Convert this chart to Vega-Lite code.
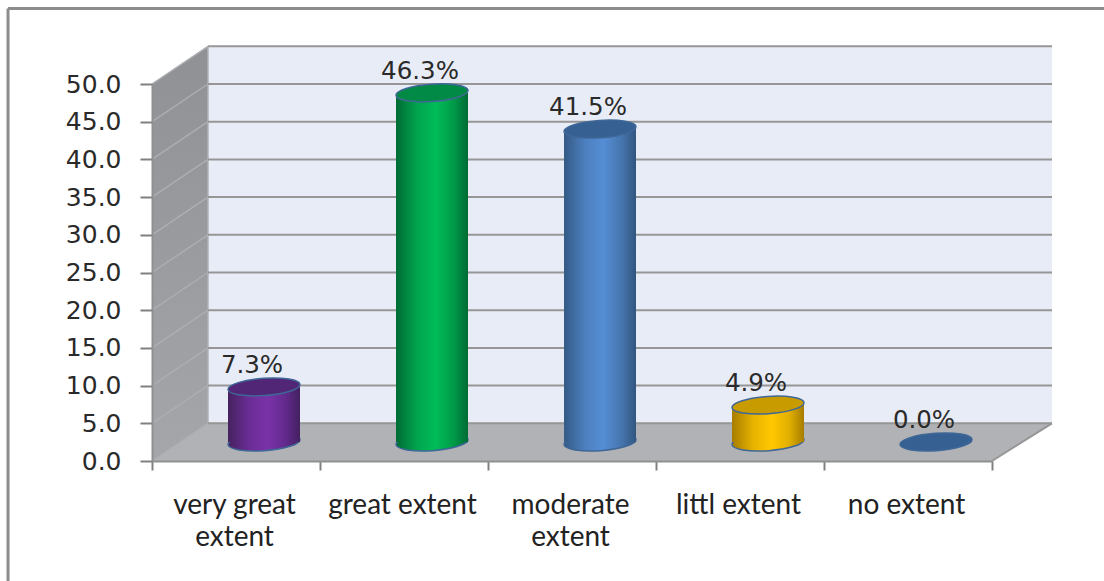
{
  "$schema": "https://vega.github.io/schema/vega-lite/v6.json",
  "width": 840,
  "height": 377,
  "autosize": {"type": "none"},
  "padding": {"left": 152, "top": 84, "right": 112, "bottom": 120},
  "background": "white",
  "config": {"view": {"stroke": null}},
  "datasets": {
    "bars": [
      {"category": "very great extent", "share": 7.3, "text": "7.3%"},
      {"category": "great extent", "share": 46.3, "text": "46.3%"},
      {"category": "moderate extent", "share": 41.5, "text": "41.5%"},
      {"category": "littl extent", "share": 4.9, "text": "4.9%"},
      {"category": "no extent", "share": 0.0, "text": "0.0%"}
    ],
    "sideWall": [
      {"u": 0, "low": 0, "high": 50},
      {"u": 0.333, "low": 5, "high": 55}
    ],
    "backWall": [
      {"u": 0.333, "low": 5, "high": 55},
      {"u": 5.357, "low": 5, "high": 55}
    ],
    "floor": [
      {"u": 0, "low": 0, "high": 0},
      {"u": 0.333, "low": 0, "high": 5},
      {"u": 5, "low": 0, "high": 5},
      {"u": 5.357, "low": 5, "high": 5}
    ],
    "sideGrid": [
      {"u0": 0, "u1": 0.333, "v0": 0, "v1": 5},
      {"u0": 0, "u1": 0.333, "v0": 5, "v1": 10},
      {"u0": 0, "u1": 0.333, "v0": 10, "v1": 15},
      {"u0": 0, "u1": 0.333, "v0": 15, "v1": 20},
      {"u0": 0, "u1": 0.333, "v0": 20, "v1": 25},
      {"u0": 0, "u1": 0.333, "v0": 25, "v1": 30},
      {"u0": 0, "u1": 0.333, "v0": 30, "v1": 35},
      {"u0": 0, "u1": 0.333, "v0": 35, "v1": 40},
      {"u0": 0, "u1": 0.333, "v0": 40, "v1": 45},
      {"u0": 0, "u1": 0.333, "v0": 45, "v1": 50},
      {"u0": 0, "u1": 0.333, "v0": 50, "v1": 55},
      {"u0": 0.333, "u1": 0.333, "v0": 5, "v1": 55}
    ],
    "backGrid": [
      {"u0": 0.333, "u1": 5.357, "v0": 5, "v1": 5},
      {"u0": 0.333, "u1": 5.357, "v0": 10, "v1": 10},
      {"u0": 0.333, "u1": 5.357, "v0": 15, "v1": 15},
      {"u0": 0.333, "u1": 5.357, "v0": 20, "v1": 20},
      {"u0": 0.333, "u1": 5.357, "v0": 25, "v1": 25},
      {"u0": 0.333, "u1": 5.357, "v0": 30, "v1": 30},
      {"u0": 0.333, "u1": 5.357, "v0": 35, "v1": 35},
      {"u0": 0.333, "u1": 5.357, "v0": 40, "v1": 40},
      {"u0": 0.333, "u1": 5.357, "v0": 45, "v1": 45},
      {"u0": 0.333, "u1": 5.357, "v0": 50, "v1": 50},
      {"u0": 0.333, "u1": 5.357, "v0": 55, "v1": 55},
      {"u0": 5, "u1": 5.357, "v0": 0, "v1": 5}
    ],
    "frame": [
      {"u0": -0.857, "u1": 5.667, "v0": 60, "v1": 60},
      {"u0": -0.857, "u1": -0.857, "v0": 60, "v1": -16}
    ]
  },
  "resolve": {"scale": {"x": "independent"}},
  "encoding": {
    "y": {
      "type": "quantitative",
      "title": null,
      "scale": {"domain": [0, 50], "nice": false},
      "axis": {
        "values": [0, 5, 10, 15, 20, 25, 30, 35, 40, 45, 50],
        "format": ".1f",
        "title": null,
        "grid": false,
        "domainColor": "#909090",
        "domainWidth": 2,
        "tickColor": "#808080",
        "tickWidth": 2,
        "tickSize": 12,
        "labelFont": "DejaVu Sans",
        "labelFontSize": 25,
        "labelColor": "#2a2a2a",
        "labelPadding": 19,
        "zindex": 1
      }
    }
  },
  "layer": [
    {
      "encoding": {
        "x": {"type": "quantitative", "scale": {"domain": [0, 5], "nice": false, "zero": false}, "axis": null}
      },
      "layer": [
        {
          "data": {"name": "frame"},
          "mark": {"type": "rule", "color": "#8c8c8c", "strokeWidth": 3},
          "encoding": {"x": {"field": "u0"}, "x2": {"field": "u1"}, "y": {"field": "v0"}, "y2": {"field": "v1"}}
        },
        {
          "data": {"name": "backWall"},
          "mark": {"type": "area", "color": "#e8ecf6"},
          "encoding": {"x": {"field": "u"}, "y": {"field": "high"}, "y2": {"field": "low"}}
        },
        {
          "data": {"name": "sideWall"},
          "mark": {
            "type": "area",
            "color": {"gradient": "linear", "x1": 0, "y1": 0, "x2": 0, "y2": 1, "stops": [{"offset": 0, "color": "#8f9194"}, {"offset": 1, "color": "#a4a6a9"}]}
          },
          "encoding": {"x": {"field": "u"}, "y": {"field": "high"}, "y2": {"field": "low"}}
        },
        {
          "data": {"name": "floor"},
          "mark": {"type": "area", "color": "#b0b2b5"},
          "encoding": {"x": {"field": "u"}, "y": {"field": "high"}, "y2": {"field": "low"}}
        },
        {
          "data": {"name": "sideGrid"},
          "mark": {"type": "rule", "color": "#acaeb1", "strokeWidth": 1.5},
          "encoding": {"x": {"field": "u0"}, "x2": {"field": "u1"}, "y": {"field": "v0"}, "y2": {"field": "v1"}}
        },
        {
          "data": {"name": "backGrid"},
          "mark": {"type": "rule", "color": "#969696", "strokeWidth": 2},
          "encoding": {"x": {"field": "u0"}, "x2": {"field": "u1"}, "y": {"field": "v0"}, "y2": {"field": "v1"}}
        }
      ]
    },
    {
      "data": {"name": "bars"},
      "encoding": {
        "x": {
          "field": "category",
          "type": "nominal",
          "sort": null,
          "title": null,
          "scale": {"domain": ["very great extent", "great extent", "moderate extent", "littl extent", "no extent"], "paddingInner": 0, "paddingOuter": 0},
          "axis": {
            "tickBand": "extent",
            "domainColor": "#909090",
            "domainWidth": 2,
            "tickColor": "#808080",
            "tickWidth": 2,
            "tickSize": 9,
            "labelAngle": 0,
            "labelFont": "Lato",
            "labelFontSize": 28,
            "labelColor": "#222222",
            "labelPadding": 21,
            "labelOffset": -2,
            "labelLineHeight": 32,
            "labelLimit": 0,
            "labelExpr": "datum.label == 'very great extent' ? ['very great', 'extent'] : datum.label == 'moderate extent' ? ['moderate', 'extent'] : datum.label",
            "zindex": 1
          }
        }
      },
      "layer": [
        {
          "transform": [{"filter": "datum.category == 'very great extent'"}],
          "layer": [
            {
              "mark": {"type": "point", "filled": true, "opacity": 1, "size": 5184, "xOffset": 28, "yOffset": -19, "stroke": "#3f6797", "strokeWidth": 1.5, "shape": "M -1 0.07 A 1 0.24 -4 1 0 1 -0.07 A 1 0.24 -4 1 0 -1 0.07 Z",
                "fill": {"gradient": "linear", "x1": 0, "x2": 1, "y1": 0, "y2": 0, "stops": [{"offset": 0, "color": "#46225f"}, {"offset": 0.3, "color": "#6a2d96"}, {"offset": 0.55, "color": "#7a32a8"}, {"offset": 0.8, "color": "#622a8c"}, {"offset": 1, "color": "#43205f"}]}},
              "encoding": {"y": {"datum": 0}}
            },
            {
              "mark": {"type": "bar", "width": 72, "xOffset": 28, "yOffset": -19, "y2Offset": -19,
                "fill": {"gradient": "linear", "x1": 0, "x2": 1, "y1": 0, "y2": 0, "stops": [{"offset": 0, "color": "#46225f"}, {"offset": 0.3, "color": "#6a2d96"}, {"offset": 0.55, "color": "#7a32a8"}, {"offset": 0.8, "color": "#622a8c"}, {"offset": 1, "color": "#43205f"}]}},
              "encoding": {"y": {"field": "share", "stack": null}, "y2": {"datum": 0}}
            }
          ]
        },
        {
          "transform": [{"filter": "datum.category == 'great extent'"}],
          "layer": [
            {
              "mark": {"type": "point", "filled": true, "opacity": 1, "size": 5184, "xOffset": 28, "yOffset": -19, "stroke": "#3f6797", "strokeWidth": 1.5, "shape": "M -1 0.07 A 1 0.24 -4 1 0 1 -0.07 A 1 0.24 -4 1 0 -1 0.07 Z",
                "fill": {"gradient": "linear", "x1": 0, "x2": 1, "y1": 0, "y2": 0, "stops": [{"offset": 0, "color": "#006b35"}, {"offset": 0.3, "color": "#00a54d"}, {"offset": 0.55, "color": "#00bc58"}, {"offset": 0.8, "color": "#009a48"}, {"offset": 1, "color": "#006b35"}]}},
              "encoding": {"y": {"datum": 0}}
            },
            {
              "mark": {"type": "bar", "width": 72, "xOffset": 28, "yOffset": -19, "y2Offset": -19,
                "fill": {"gradient": "linear", "x1": 0, "x2": 1, "y1": 0, "y2": 0, "stops": [{"offset": 0, "color": "#006b35"}, {"offset": 0.3, "color": "#00a54d"}, {"offset": 0.55, "color": "#00bc58"}, {"offset": 0.8, "color": "#009a48"}, {"offset": 1, "color": "#006b35"}]}},
              "encoding": {"y": {"field": "share", "stack": null}, "y2": {"datum": 0}}
            }
          ]
        },
        {
          "transform": [{"filter": "datum.category == 'moderate extent'"}],
          "layer": [
            {
              "mark": {"type": "point", "filled": true, "opacity": 1, "size": 5184, "xOffset": 28, "yOffset": -19, "stroke": "#3f6797", "strokeWidth": 1.5, "shape": "M -1 0.07 A 1 0.24 -4 1 0 1 -0.07 A 1 0.24 -4 1 0 -1 0.07 Z",
                "fill": {"gradient": "linear", "x1": 0, "x2": 1, "y1": 0, "y2": 0, "stops": [{"offset": 0, "color": "#345a85"}, {"offset": 0.3, "color": "#4d80c0"}, {"offset": 0.55, "color": "#558ed5"}, {"offset": 0.8, "color": "#4675ae"}, {"offset": 1, "color": "#315680"}]}},
              "encoding": {"y": {"datum": 0}}
            },
            {
              "mark": {"type": "bar", "width": 72, "xOffset": 28, "yOffset": -19, "y2Offset": -19,
                "fill": {"gradient": "linear", "x1": 0, "x2": 1, "y1": 0, "y2": 0, "stops": [{"offset": 0, "color": "#345a85"}, {"offset": 0.3, "color": "#4d80c0"}, {"offset": 0.55, "color": "#558ed5"}, {"offset": 0.8, "color": "#4675ae"}, {"offset": 1, "color": "#315680"}]}},
              "encoding": {"y": {"field": "share", "stack": null}, "y2": {"datum": 0}}
            }
          ]
        },
        {
          "transform": [{"filter": "datum.category == 'littl extent'"}],
          "layer": [
            {
              "mark": {"type": "point", "filled": true, "opacity": 1, "size": 5184, "xOffset": 28, "yOffset": -19, "stroke": "#3f6797", "strokeWidth": 1.5, "shape": "M -1 0.07 A 1 0.24 -4 1 0 1 -0.07 A 1 0.24 -4 1 0 -1 0.07 Z",
                "fill": {"gradient": "linear", "x1": 0, "x2": 1, "y1": 0, "y2": 0, "stops": [{"offset": 0, "color": "#a67c00"}, {"offset": 0.3, "color": "#e8b400"}, {"offset": 0.55, "color": "#ffc800"}, {"offset": 0.8, "color": "#e0ae00"}, {"offset": 1, "color": "#a67c00"}]}},
              "encoding": {"y": {"datum": 0}}
            },
            {
              "mark": {"type": "bar", "width": 72, "xOffset": 28, "yOffset": -19, "y2Offset": -19,
                "fill": {"gradient": "linear", "x1": 0, "x2": 1, "y1": 0, "y2": 0, "stops": [{"offset": 0, "color": "#a67c00"}, {"offset": 0.3, "color": "#e8b400"}, {"offset": 0.55, "color": "#ffc800"}, {"offset": 0.8, "color": "#e0ae00"}, {"offset": 1, "color": "#a67c00"}]}},
              "encoding": {"y": {"field": "share", "stack": null}, "y2": {"datum": 0}}
            }
          ]
        },
        {
          "mark": {"type": "point", "filled": true, "opacity": 1, "size": 5184, "xOffset": 28, "yOffset": -19, "stroke": "#3f6797", "strokeWidth": 1.5, "shape": "M -1 0.07 A 1 0.24 -4 1 0 1 -0.07 A 1 0.24 -4 1 0 -1 0.07 Z"},
          "encoding": {
            "y": {"field": "share"},
            "color": {"field": "category", "legend": null, "scale": {"domain": ["very great extent", "great extent", "moderate extent", "littl extent", "no extent"], "range": ["#512677", "#008a45", "#376092", "#c89c00", "#376092"]}}
          }
        },
        {
          "mark": {"type": "text", "font": "DejaVu Sans", "fontSize": 24.5, "color": "#2a2a2a", "xOffset": 16, "yOffset": -40, "baseline": "middle"},
          "encoding": {
            "y": {"field": "share"},
            "text": {"field": "text"}
          }
        }
      ]
    }
  ]
}
